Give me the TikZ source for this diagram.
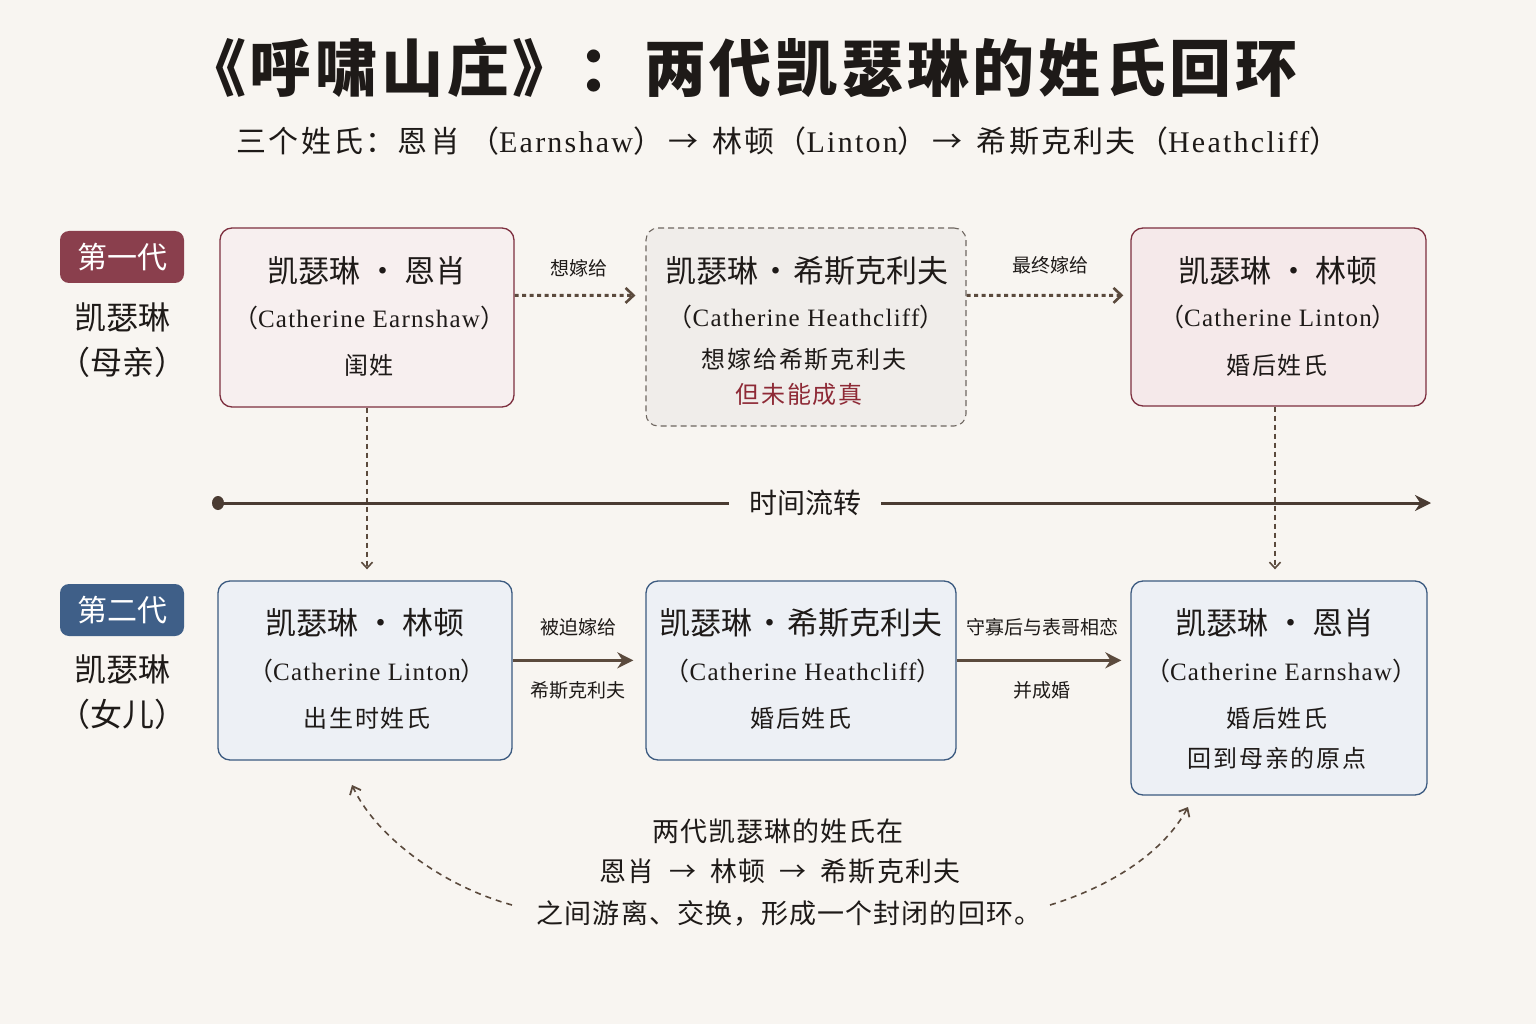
\documentclass[tikz,border=0pt]{standalone}
\usepackage{fontspec}
\setmainfont{Liberation Serif}
\newfontfamily\cjk{Noto Sans CJK SC}
\usetikzlibrary{arrows.meta,calc}
\definecolor{bgc}{HTML}{F8F5F1}
\definecolor{ink}{HTML}{1E1A18}
\definecolor{maroonB}{HTML}{7D2F3F}
\definecolor{maroonF}{HTML}{8A3F4D}
\definecolor{pinkA}{HTML}{F7EFEF}
\definecolor{pinkC}{HTML}{F5E9EA}
\definecolor{grayB}{HTML}{6E6660}
\definecolor{grayF}{HTML}{F0EDEA}
\definecolor{blueB}{HTML}{3C5A80}
\definecolor{blueF}{HTML}{EDF0F5}
\definecolor{blueBadge}{HTML}{3F5F88}
\definecolor{arr}{HTML}{5B4A3D}
\definecolor{tline}{HTML}{4A3B32}
\definecolor{redtx}{HTML}{8E2A36}
\newcommand\setfs[1]{\fontsize{#1}{#1}\selectfont}
\newcommand\ls[1]{\addfontfeatures{LetterSpace=#1}}
\newcommand\cjksp{\cjk\ls{7.5}}
\newcommand\engname[1]{{\cjk （}#1{\cjk ）}}
\tikzset{
  box/.style={rounded corners=12pt, line width=1.3pt, inner sep=0pt},
  topbox/.style={box, draw=maroonB, fill=pinkA},
  dashbox/.style={box, draw=grayB, fill=grayF, dashed, dash pattern=on 6pt off 4pt, line width=1.1pt},
  botbox/.style={box, draw=blueB, fill=blueF},
  badge/.style={rounded corners=9pt, inner sep=0pt, minimum width=124pt, minimum height=52pt, text=white, font=\cjk\setfs{30}},
  txt/.style={inner sep=0pt, text=ink},
  nameline/.style={txt, font=\cjk\setfs{31}},
  engline/.style={txt, font=\setfs{25}\ls{5}},
  noteline/.style={txt, font=\cjk\setfs{24}\ls{8}},
  lbl/.style={txt, font=\cjk\setfs{19}},
  btext/.style={txt, font=\cjk\setfs{27}\ls{4}},
  dotarrow/.style={draw=arr, line width=3pt, dash pattern=on 4pt off 3.5pt, -{Straight Barb[length=8pt,width=15pt,line width=2.6pt]}},
  vdash/.style={draw=arr, line width=1.6pt, dash pattern=on 5pt off 4pt, -{Straight Barb[length=6pt,width=11pt,line width=1.6pt]}},
  solidarrow/.style={draw=arr, line width=3pt, -{Stealth[length=16pt,width=16pt]}},
  curvearrow/.style={draw=arr, line width=1.6pt, dash pattern=on 6pt off 5pt, -{Straight Barb[length=7pt,width=12pt,line width=1.8pt]}},
}
\begin{document}
\begin{tikzpicture}[x=1pt,y=-1pt]
\fill[bgc] (0,0) rectangle (1536,1024);
\useasboundingbox (0,0) rectangle (1536,1024);

% title
\node[txt, font=\cjk\bfseries\setfs{62}\ls{6}] (title) at (741,68) {《呼啸山庄》：两代凯瑟琳的姓氏回环};
\node[txt, font=\setfs{30}\ls{7.5}] (sub) at (788,141) {{\cjksp 三个姓氏：恩肖 （}Earnshaw{\cjksp ）\,→\, 林顿（}Linton{\cjksp ）\,→\, 希斯克利夫（}Heathcliff{\cjksp ）}};

% generation labels
\node[badge, fill=maroonF] (g1) at (122,257) {第一代};
\node[txt, font=\cjk\setfs{32}] (g1a) at (122,317) {凯瑟琳};
\node[txt, font=\cjk\setfs{32}] (g1b) at (122,362) {（母亲）};
\node[badge, fill=blueBadge] (g2) at (122,610) {第二代};
\node[txt, font=\cjk\setfs{32}] (g2a) at (122,669) {凯瑟琳};
\node[txt, font=\cjk\setfs{32}] (g2b) at (122,714) {（女儿）};

% top boxes
\node[topbox, minimum width=294pt, minimum height=179pt] (A) at (367,317.5) {};
\node[nameline] (A1) at (367,271) {凯瑟琳 · 恩肖};
\node[engline] (A2) at (369,318) {\engname{Catherine Earnshaw}};
\node[noteline] (A3) at (369,365) {闺姓};

\node[dashbox, minimum width=320pt, minimum height=198pt] (B) at (806,327) {};
\node[nameline] (B1) at (807,271) {凯瑟琳\hspace{2pt}·\hspace{2pt}希斯克利夫};
\node[engline] (B2) at (806,317) {\engname{Catherine Heathcliff}};
\node[noteline] (B3) at (804,360) {想嫁给希斯克利夫};
\node[noteline, text=redtx] (B4) at (799,394) {但未能成真};

\node[topbox, fill=pinkC, minimum width=295pt, minimum height=178pt] (C) at (1278.5,317) {};
\node[nameline] (C1) at (1278,271) {凯瑟琳 · 林顿};
\node[engline] (C2) at (1278,317) {\engname{Catherine Linton}};
\node[noteline] (C3) at (1277,365) {婚后姓氏};

% top arrows
\draw[dotarrow, shorten >=10pt] ([yshift=-68pt]A.north east) -- ([yshift=-68pt]B.north west);
\node[lbl] (l1) at (579,268) {想嫁给};
\draw[dotarrow, shorten >=7pt] ([yshift=-68pt]B.north east) -- ([yshift=-68pt]C.north west);
\node[lbl] (l2) at (1050,265) {最终嫁给};

% bottom boxes
\node[botbox, minimum width=294pt, minimum height=179pt] (D) at (365,670.5) {};
\node[nameline] (D1) at (365,623) {凯瑟琳 · 林顿};
\node[engline] (D2) at (367,671) {\engname{Catherine Linton}};
\node[noteline] (D3) at (367,718) {出生时姓氏};

\node[botbox, minimum width=310pt, minimum height=179pt] (E) at (801,670.5) {};
\node[nameline] (E1) at (801,623) {凯瑟琳\hspace{2pt}·\hspace{2pt}希斯克利夫};
\node[engline] (E2) at (803,671) {\engname{Catherine Heathcliff}};
\node[noteline] (E3) at (801,718) {婚后姓氏};

\node[botbox, minimum width=296pt, minimum height=214pt] (F) at (1279,688) {};
\node[nameline] (F1) at (1275,623) {凯瑟琳 · 恩肖};
\node[engline] (F2) at (1281,671) {\engname{Catherine Earnshaw}};
\node[noteline] (F3) at (1277,718) {婚后姓氏};
\node[noteline] (F4) at (1277,758) {回到母亲的原点};

% bottom arrows
\draw[solidarrow, shorten >=12pt] ([yshift=-80pt]D.north east) -- ([yshift=-80pt]E.north west);
\node[lbl] (l3) at (578,627) {被迫嫁给};
\node[lbl] (l4) at (578,690) {希斯克利夫};
\draw[solidarrow, shorten >=9pt] ([yshift=-80pt]E.north east) -- ([yshift=-80pt]F.north west);
\node[lbl] (l5) at (1042,627) {守寡后与表哥相恋};
\node[lbl] (l6) at (1042,690) {并成婚};

% vertical dashed
\draw[vdash, shorten >=11pt] (A.south) -- (A.south |- D.north);
\draw[vdash, shorten >=11pt] ([xshift=-3.5pt]C.south) -- ([xshift=-3.5pt]C.south |- F.north);

% timeline
\coordinate (t0) at (218,503);
\coordinate (t1) at (1431,503);
\node[txt, font=\cjk\setfs{28}, inner xsep=20pt] (tl) at (805,503) {时间流转};
\draw[tline, line width=3pt] (t0) -- (tl.west);
\draw[tline, line width=3pt, -{Stealth[length=16pt,width=16pt]}] (tl.east) -- (t1);
\fill[tline] (t0) ellipse (6pt and 7pt);

% bottom text
\node[btext] (b1) at (778,831) {两代凯瑟琳的姓氏在};
\node[btext] (b2) at (780,871) {恩肖 \ → \ 林顿 \ → \ 希斯克利夫};
\node[btext] (b3) at (789,913) {之间游离、交换，形成一个封闭的回环。};

% curved arrows
\coordinate (c0) at (512,905);
\coordinate (c1) at (352,785);
\coordinate (c2) at (1050,905);
\coordinate (c3) at (1188,807);
\draw[curvearrow] (c0) .. controls (440,885) and (375,835) .. (c1);
\draw[curvearrow] (c2) .. controls (1115,885) and (1165,850) .. (c3);
\end{tikzpicture}
\end{document}
